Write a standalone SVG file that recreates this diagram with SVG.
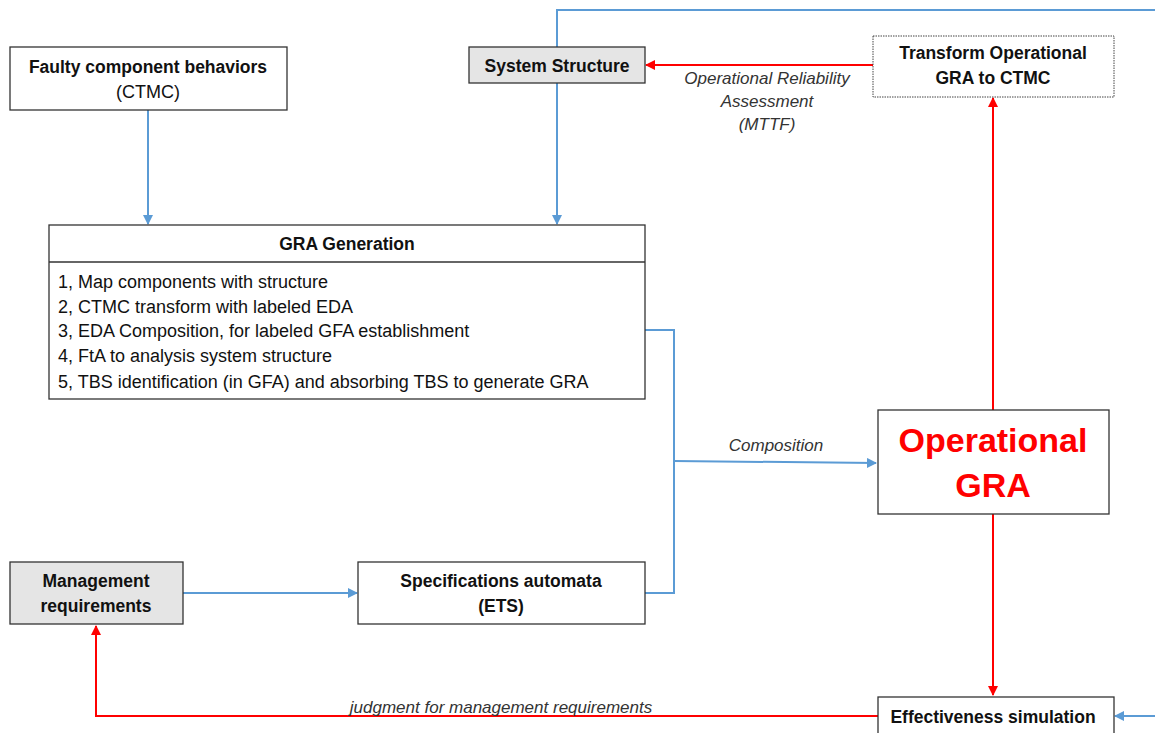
<svg xmlns="http://www.w3.org/2000/svg" width="1155" height="733" viewBox="0 0 1155 733">
<defs>
<style>
.box{fill:#fff;stroke:#333;stroke-width:1.3}
.gray{fill:#e5e5e5;stroke:#333;stroke-width:1.3}
.b{font-family:"Liberation Sans",Arial,sans-serif;font-weight:bold;font-size:17.5px;fill:#111;text-anchor:middle}
.n{font-family:"Liberation Sans",Arial,sans-serif;font-size:18px;fill:#111}
.i{font-family:"Liberation Sans",Arial,sans-serif;font-style:italic;font-size:17px;fill:#333;text-anchor:middle}
.blue{fill:none;stroke:#5b9bd5;stroke-width:2}
.red{fill:none;stroke:#ff0000;stroke-width:2}
</style>
<marker id="ab" viewBox="0 0 10 10" refX="9" refY="5" markerWidth="5" markerHeight="5" orient="auto" markerUnits="strokeWidth"><path d="M0,0L10,5L0,10z" fill="#5b9bd5"/></marker>
<marker id="ar" viewBox="0 0 10 10" refX="9" refY="5" markerWidth="5" markerHeight="5" orient="auto" markerUnits="strokeWidth"><path d="M0,0L10,5L0,10z" fill="#ff0000"/></marker>
</defs>
<g id="connectors">
<path class="blue" d="M557,47V10H1155"/>
<path class="blue" d="M557,83V224" marker-end="url(#ab)"/>
<path class="blue" d="M148,110V224" marker-end="url(#ab)"/>
<path class="blue" d="M645,330H674V593H645"/>
<path class="blue" d="M674,461L876,463" marker-end="url(#ab)"/>
<path class="blue" d="M183,593H357" marker-end="url(#ab)"/>
<path class="blue" d="M1155,716H1115" marker-end="url(#ab)"/>
<path class="red" d="M873,65H646" marker-end="url(#ar)"/>
<path class="red" d="M993,410V98" marker-end="url(#ar)"/>
<path class="red" d="M993,514V695" marker-end="url(#ar)"/>
<path class="red" d="M878,716H96V626" marker-end="url(#ar)"/>
<text class="i" x="767" y="84">Operational Reliability</text>
<text class="i" x="767" y="107">Assessment</text>
<text class="i" x="767" y="130">(MTTF)</text>
<text class="i" x="776" y="451">Composition</text>
<text class="i" x="501" y="713">judgment for management requirements</text>
</g>
<g id="faulty">
<rect class="box" x="10" y="47" width="277" height="63"/>
<text class="b" x="148" y="73">Faulty component behaviors</text>
<text class="n" x="148" y="98" text-anchor="middle">(CTMC)</text>
</g>
<g id="system-structure">
<rect class="gray" x="469" y="47" width="176" height="36"/>
<text class="b" x="557" y="72">System Structure</text>
</g>
<g id="transform">
<rect x="873" y="36" width="241" height="61" fill="#fff" stroke="#444" stroke-width="1" stroke-dasharray="1.5,1"/>
<text class="b" x="993" y="59">Transform Operational</text>
<text class="b" x="993" y="84">GRA to CTMC</text>
</g>
<g id="gra-generation">
<rect class="box" x="49" y="225" width="596" height="174"/>
<line x1="49" y1="262" x2="645" y2="262" stroke="#333" stroke-width="1.3"/>
<text class="b" x="347" y="250">GRA Generation</text>
<text class="n" x="58" y="288">1, Map components with structure</text>
<text class="n" x="58" y="313">2, CTMC transform with labeled EDA</text>
<text class="n" x="58" y="337">3, EDA Composition, for labeled GFA establishment</text>
<text class="n" x="58" y="362">4, FtA to analysis system structure</text>
<text class="n" x="58" y="388">5, TBS identification (in GFA) and absorbing TBS to generate GRA</text>
</g>
<g id="operational-gra">
<rect class="box" x="878" y="410" width="231" height="104"/>
<text class="b" x="993" y="452" style="fill:#ff0000;font-size:34px">Operational</text>
<text class="b" x="993" y="497" style="fill:#ff0000;font-size:34px">GRA</text>
</g>
<g id="management">
<rect class="gray" x="10" y="562" width="173" height="62"/>
<text class="b" x="96" y="587">Management</text>
<text class="b" x="96" y="612">requirements</text>
</g>
<g id="specifications">
<rect class="box" x="358" y="562" width="287" height="62"/>
<text class="b" x="501" y="587">Specifications automata</text>
<text class="b" x="501" y="612">(ETS)</text>
</g>
<g id="effectiveness">
<rect class="box" x="878" y="697" width="236" height="50"/>
<text class="b" x="993" y="723">Effectiveness simulation</text>
</g>
</svg>
